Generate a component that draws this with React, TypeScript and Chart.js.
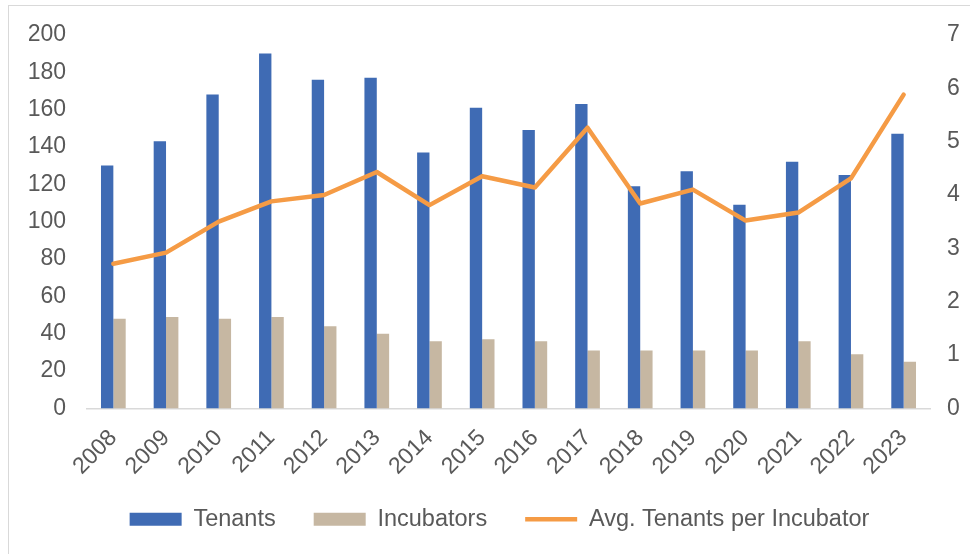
import React, { useEffect, useRef } from "react";
import { Chart, registerables } from "chart.js";

Chart.register(...registerables);

const years = ["2008","2009","2010","2011","2012","2013","2014","2015","2016","2017","2018","2019","2020","2021","2022","2023"];
const tenants = [130, 143, 168, 190, 176, 177, 137, 161, 149, 163, 119, 127, 109, 132, 125, 147];
const incubators = [48, 49, 48, 49, 44, 40, 36, 37, 36, 31, 31, 31, 31, 36, 29, 25];
const avgTenants = [2.71, 2.92, 3.5, 3.88, 4.0, 4.43, 3.81, 4.35, 4.14, 5.26, 3.84, 4.1, 3.52, 3.67, 4.31, 5.88];
const leftTicks = [0, 20, 40, 60, 80, 100, 120, 140, 160, 180, 200];
const rightTicks = [0, 1, 2, 3, 4, 5, 6, 7];

const FONT = "'Liberation Sans', Arial, sans-serif";
const TEXT = "#595959";

const extendXLabelArea = {
  id: "extendXLabelArea",
  afterLayout(chart: any) {
    const x = chart.scales.x;
    if (x) {
      x.bottom = x.top + 110;
    }
  },
};

export default function App() {
  const ref = useRef<HTMLCanvasElement | null>(null);
  useEffect(() => {
    if (!ref.current) return;
    const chart = new Chart(ref.current, {
      type: "bar",
      data: {
        labels: years,
        datasets: [
          {
            type: "bar",
            label: "Tenants",
            data: tenants,
            backgroundColor: "#3F6BB4",
            borderWidth: 0,
            yAxisID: "y",
            order: 1,
            pointStyle: "rect",
            categoryPercentage: 0.469,
            barPercentage: 1,
          } as any,
          {
            type: "bar",
            label: "Incubators",
            data: incubators,
            backgroundColor: "#C6B7A2",
            borderWidth: 0,
            yAxisID: "y",
            order: 1,
            pointStyle: "rect",
            categoryPercentage: 0.469,
            barPercentage: 1,
          } as any,
          {
            type: "line",
            label: "Avg. Tenants per Incubator",
            data: avgTenants,
            borderColor: "#F59B45",
            backgroundColor: "#F59B45",
            borderWidth: 4.5,
            borderJoinStyle: "round",
            borderCapStyle: "round",
            pointRadius: 0,
            pointHoverRadius: 0,
            pointStyle: "line",
            tension: 0,
            yAxisID: "y1",
            order: 0,
          } as any,
        ],
      },
      plugins: [extendXLabelArea],
      options: {
        responsive: false,
        animation: false,
        layout: { padding: { left: 20, right: 0, top: 18, bottom: 13 } },
        plugins: {
          tooltip: { enabled: false },
          legend: {
            position: "bottom",
            labels: {
              usePointStyle: true,
              pointStyleWidth: 52,
              boxHeight: 13,
              padding: 38,
              color: TEXT,
              font: { family: FONT, size: 23.5 },
              sort: (a: any, b: any) => a.datasetIndex - b.datasetIndex,
            },
          },
        },
        scales: {
          x: {
            grid: { display: false, drawTicks: false },
            border: { display: true, color: "#D9D9D9", width: 1.5 },
            ticks: {
              color: TEXT,
              font: { family: FONT, size: 23 },
              minRotation: 45,
              maxRotation: 45,
              padding: 16,
              autoSkip: false,
            },
            afterFit: (s: any) => { s.height = 61; },
          },
          y: {
            position: "left",
            min: 0,
            max: 200,
            grid: { display: false, drawTicks: false },
            border: { display: false },
            afterBuildTicks: (s: any) => { s.ticks = leftTicks.map((v) => ({ value: v })); },
            ticks: { color: TEXT, font: { family: FONT, size: 23 }, padding: 21 },
            afterFit: (s: any) => { s.width = 58; },
          },
          y1: {
            position: "right",
            min: 0,
            max: 7,
            grid: { display: false, drawTicks: false },
            border: { display: false },
            afterBuildTicks: (s: any) => { s.ticks = rightTicks.map((v) => ({ value: v })); },
            ticks: { color: TEXT, font: { family: FONT, size: 23 }, padding: 17 },
            afterFit: (s: any) => { s.width = 40; },
          },
        },
      } as any,
    });
    return () => chart.destroy();
  }, []);

  return (
    <div
      style={{
        position: "fixed",
        left: 8,
        top: 5,
        width: 980,
        height: 570,
        border: "1px solid #D9D9D9",
        background: "#FFFFFF",
      }}
    >
      <canvas
        ref={ref}
        width={961}
        height={554}
        style={{ display: "block", position: "absolute", left: 0, top: -6 }}
      />
    </div>
  );
}
